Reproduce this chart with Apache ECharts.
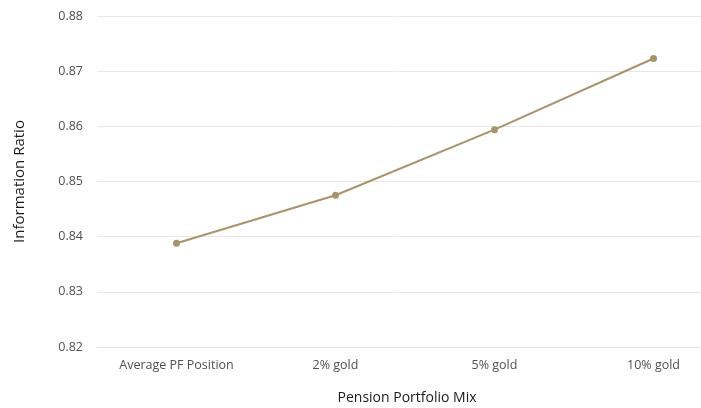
<!DOCTYPE html>
<html>
<head>
<meta charset="utf-8">
<script src="https://cdn.jsdelivr.net/npm/echarts@6/dist/echarts.min.js"></script>
<style>
  html, body { margin: 0; padding: 0; background: #fff; }
  #chart { width: 701px; height: 408px; }
</style>
</head>
<body>
<div id="chart"></div>
<script>
// data
const categories = ["Average PF Position", "2% gold", "5% gold", "10% gold"];
const infoRatio = [0.8388, 0.8475, 0.8594, 0.8723];
const yTicks = [0.82, 0.83, 0.84, 0.85, 0.86, 0.87, 0.88];

const chart = echarts.init(document.getElementById("chart"));

const option = {
  animation: false,
  textStyle: { fontFamily: "Open Sans" },
  grid: {
    left: 97,
    width: 636,
    top: 16,
    bottom: 61,
    outerBoundsMode: "none"
  },
  xAxis: {
    type: "category",
    data: categories,
    boundaryGap: true,
    axisLine: { lineStyle: { color: "#e3e3e3" } },
    axisTick: { show: false },
    axisLabel: {
      color: "#505050",
      fontSize: 12.5,
      margin: 12
    }
  },
  yAxis: {
    type: "value",
    min: yTicks[0],
    max: yTicks[yTicks.length - 1],
    interval: 0.01,
    name: "Information Ratio",
    nameLocation: "middle",
    nameGap: 70,
    nameTextStyle: { color: "#1a1a1a", fontSize: 15 },
    axisLine: { show: false },
    axisTick: { show: false },
    splitLine: { lineStyle: { color: "#e8e8e8" } },
    axisLabel: {
      color: "#505050",
      fontSize: 12.5,
      margin: 14,
      formatter: v => v.toFixed(2)
    }
  },
  graphic: [
    {
      type: "text",
      x: 407,
      y: 398,
      style: {
        text: "Pension Portfolio Mix",
        fill: "#1a1a1a",
        fontSize: 14,
        fontFamily: "Open Sans",
        align: "center",
        verticalAlign: "middle"
      }
    }
  ],
  series: [
    {
      type: "line",
      data: infoRatio,
      symbol: "circle",
      symbolSize: 7,
      lineStyle: { color: "#a8936a", width: 2 },
      itemStyle: { color: "#a8936a" }
    }
  ]
};

chart.setOption(option);
</script>
</body>
</html>
